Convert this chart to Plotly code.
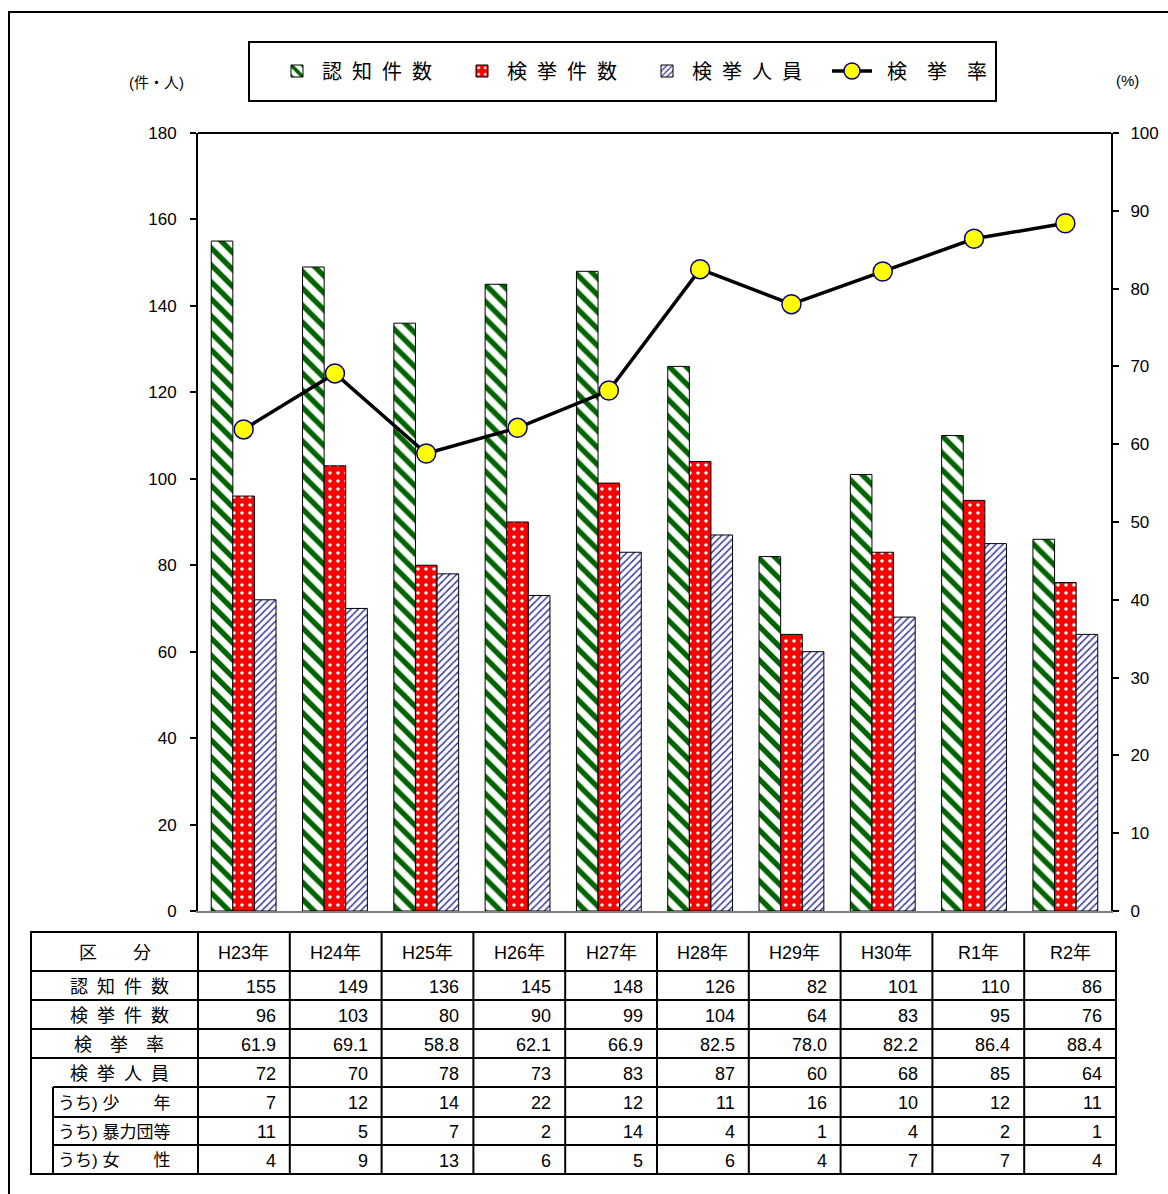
import plotly.graph_objects as go

W, H = 1168, 1194

years = ["H23年", "H24年", "H25年", "H26年", "H27年", "H28年", "H29年", "H30年", "R1年", "R2年"]
ninchi = [155, 149, 136, 145, 148, 126, 82, 101, 110, 86]
kenkyo_ken = [96, 103, 80, 90, 99, 104, 64, 83, 95, 76]
kenkyo_ritsu = [61.9, 69.1, 58.8, 62.1, 66.9, 82.5, 78.0, 82.2, 86.4, 88.4]
kenkyo_jin = [72, 70, 78, 73, 83, 87, 60, 68, 85, 64]
shonen = [7, 12, 14, 22, 12, 11, 16, 10, 12, 11]
boryokudan = [11, 5, 7, 2, 14, 4, 1, 4, 2, 1]
josei = [4, 9, 13, 6, 5, 6, 4, 7, 7, 4]

left_ticks = [0, 20, 40, 60, 80, 100, 120, 140, 160, 180]
right_ticks = [0, 10, 20, 30, 40, 50, 60, 70, 80, 90, 100]

FONT = "Liberation Sans, Noto Sans CJK JP, sans-serif"
ES = "\u2002"


def px(x):
    return x / W


def py(y):
    return 1 - y / H


fig = go.Figure()

fig.add_trace(go.Bar(
    x=years, y=ninchi, name="認" + ES + "知" + ES + "件" + ES + "数",
    marker=dict(color="white", line=dict(color="black", width=1),
                pattern=dict(shape="\\", fgcolor="#006400", bgcolor="white", size=12, solidity=0.45)),
))
fig.add_trace(go.Bar(
    x=years, y=kenkyo_ken, name="検" + ES + "挙" + ES + "件" + ES + "数",
    marker=dict(color="red", line=dict(color="black", width=1),
                pattern=dict(shape=".", fgcolor="white", bgcolor="#ff0000", size=8, solidity=0.15)),
))
fig.add_trace(go.Bar(
    x=years, y=kenkyo_jin, name="検" + ES + "挙" + ES + "人" + ES + "員",
    marker=dict(color="white", line=dict(color="black", width=1),
                pattern=dict(shape="/", fgcolor="#3a3aa0", bgcolor="white", size=5, solidity=0.3)),
))
fig.add_trace(go.Scatter(
    x=years, y=kenkyo_ritsu, name=ES + "検" + ES + ES + "挙" + ES + ES + "率", yaxis="y2",
    mode="lines+markers",
    line=dict(color="black", width=3.5),
    marker=dict(color="#ffff00", size=19, line=dict(color="#000080", width=1.5)),
))

xd = [px(198), px(1111)]
yd = [py(911), py(133)]

fig.update_layout(
    width=W, height=H, autosize=False,
    template="none",
    paper_bgcolor="white", plot_bgcolor="white",
    margin=dict(l=0, r=0, t=0, b=0, pad=0),
    font=dict(family=FONT, size=17, color="black"),
    barmode="group", bargap=0.29, bargroupgap=0,
    showlegend=True,
    legend=dict(orientation="h", x=px(272), xanchor="left", y=py(71), yanchor="middle",
                font=dict(size=20, family=FONT), bgcolor="rgba(0,0,0,0)", borderwidth=0,
                itemwidth=40, traceorder="normal", entrywidth=130, entrywidthmode="pixels"),
    xaxis=dict(domain=xd, type="category", range=[-0.5, 9.5], showticklabels=False,
               showline=True, linecolor="#808080", linewidth=2, ticks="", showgrid=False,
               zeroline=False, automargin=False),
    yaxis=dict(domain=yd, range=[0, 180], tickvals=left_ticks, showline=True, linecolor="black",
               linewidth=2, ticks="outside", ticklen=6, tickwidth=1.5, tickcolor="black",
               showgrid=False, zeroline=False, automargin=False, ticklabelstandoff=10,
               tickfont=dict(size=17)),
    yaxis2=dict(overlaying="y", side="right", range=[0, 100], tickvals=right_ticks, showline=True,
                linecolor="black", linewidth=2, ticks="outside", ticklen=6, tickwidth=1.5,
                tickcolor="black", showgrid=False, zeroline=False, automargin=False,
                ticklabelstandoff=8, tickfont=dict(size=17), anchor="x"),
)

shapes = []
ann = []


def hline(x0, x1, y, w=2, c="black"):
    shapes.append(dict(type="line", xref="paper", yref="paper", x0=px(x0), x1=px(x1),
                       y0=py(y), y1=py(y), line=dict(color=c, width=w)))


def vline(x, y0, y1, w=2, c="black"):
    shapes.append(dict(type="line", xref="paper", yref="paper", x0=px(x), x1=px(x),
                       y0=py(y0), y1=py(y1), line=dict(color=c, width=w)))


def text(x, y, s, anchor="center", size=18):
    ann.append(dict(xref="paper", yref="paper", x=px(x), y=py(y), text=s, showarrow=False,
                    xanchor=anchor, yanchor="middle", font=dict(size=size, family=FONT, color="black")))


# outer frame (top & left)
hline(8, 1168, 12)
vline(9, 12, 1194)
# top line of plot frame
hline(198, 1111, 133)
# legend box
shapes.append(dict(type="rect", xref="paper", yref="paper", x0=px(249), x1=px(996),
                   y0=py(101), y1=py(42), line=dict(color="black", width=2)))

# axis unit labels
text(156, 82, "(件・人)", size=15)
text(1127, 80, "(%)", size=15)

# table
tx0, tx1 = 31, 1116
c0 = 198
cw = (tx1 - c0) / len(years)
rows_y = [932, 971, 1000, 1029, 1058, 1087, 1117, 1145, 1174]
for i, y in enumerate(rows_y):
    if i in (5, 6, 7):
        hline(53, tx1, y)
    else:
        hline(tx0 - 1, tx1 + 1, y)
vline(tx0, rows_y[0], rows_y[-1])
vline(53, rows_y[5], rows_y[-1])
for j in range(len(years) + 1):
    vline(c0 + j * cw, rows_y[0], rows_y[-1])

centers = [(rows_y[i] + rows_y[i + 1]) / 2 + 1 for i in range(len(rows_y) - 1)]

text(115, centers[0], "区\u3000\u3000分")
for j, yr in enumerate(years):
    text(c0 + (j + 0.5) * cw, centers[0], yr)

row_labels = ["認" + ES + "知" + ES + "件" + ES + "数",
              "検" + ES + "挙" + ES + "件" + ES + "数",
              "検" + ES + ES + "挙" + ES + ES + "率",
              "検" + ES + "挙" + ES + "人" + ES + "員"]
row_data = [ninchi, kenkyo_ken, [f"{v:.1f}" for v in kenkyo_ritsu], kenkyo_jin]
for i, (lab, vals) in enumerate(zip(row_labels, row_data)):
    text(119, centers[i + 1], lab)
    for j, v in enumerate(vals):
        text(c0 + (j + 1) * cw - 12, centers[i + 1], str(v), anchor="right")

sub_labels = ["うち) 少\u3000\u3000年", "うち) 暴力団等", "うち) 女\u3000\u3000性"]
sub_data = [shonen, boryokudan, josei]
for i, (lab, vals) in enumerate(zip(sub_labels, sub_data)):
    text(56, centers[i + 5], lab, anchor="left", size=17)
    for j, v in enumerate(vals):
        text(c0 + (j + 1) * cw - 12, centers[i + 5], str(v), anchor="right")

fig.update_layout(shapes=shapes, annotations=ann)

fig.write_html("out.html")
